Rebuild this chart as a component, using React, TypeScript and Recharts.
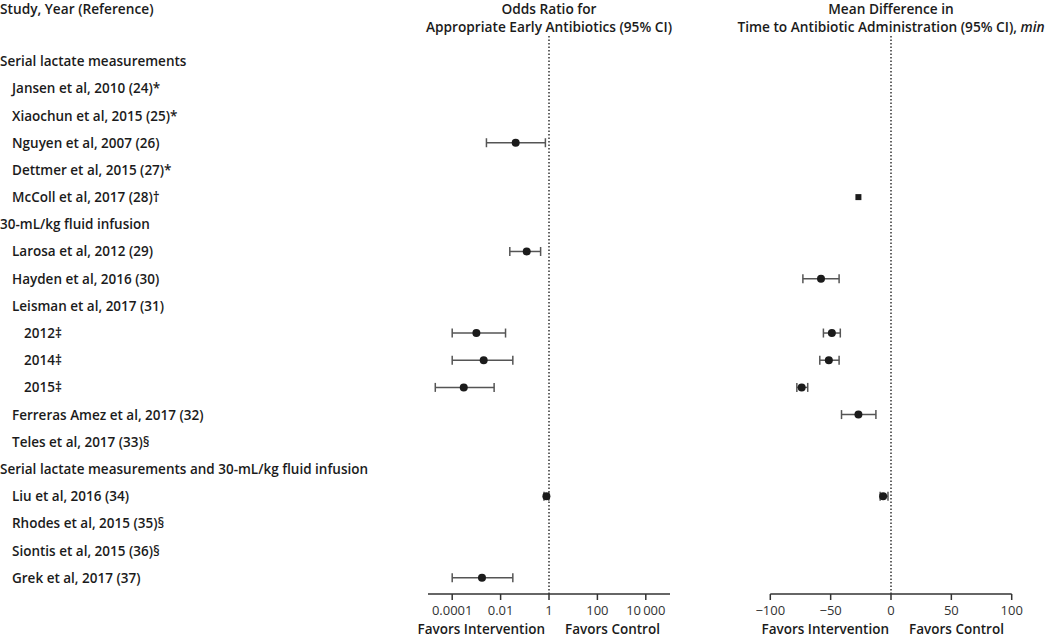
import { ErrorBar, ReferenceLine, Scatter, ScatterChart, XAxis, YAxis } from "recharts";

const FONT = "'Open Sans', 'DejaVu Sans', sans-serif";

// study rows, top to bottom
const rowLabels = [
  "Serial lactate measurements",
  "Jansen et al, 2010 (24)*",
  "Xiaochun et al, 2015 (25)*",
  "Nguyen et al, 2007 (26)",
  "Dettmer et al, 2015 (27)*",
  "McColl et al, 2017 (28)†",
  "30-mL/kg fluid infusion",
  "Larosa et al, 2012 (29)",
  "Hayden et al, 2016 (30)",
  "Leisman et al, 2017 (31)",
  "2012‡",
  "2014‡",
  "2015‡",
  "Ferreras Amez et al, 2017 (32)",
  "Teles et al, 2017 (33)§",
  "Serial lactate measurements and 30-mL/kg fluid infusion",
  "Liu et al, 2016 (34)",
  "Rhodes et al, 2015 (35)§",
  "Siontis et al, 2015 (36)§",
  "Grek et al, 2017 (37)",
];
const rowIndent = [0, 1, 1, 1, 1, 1, 0, 1, 1, 1, 2, 2, 2, 1, 1, 0, 1, 1, 1, 1];
const rowIndex = rowLabels.map((_, i) => i);

// odds ratio panel
const orRows = [3, 7, 10, 11, 12, 16, 19];
const orValue = [0.042, 0.12, 0.001, 0.002, 0.0003, 0.78, 0.0017];
const orLower = [0.0026, 0.024, 0.0001, 0.0001, 0.00002, 0.62, 0.0001];
const orUpper = [0.71, 0.45, 0.016, 0.032, 0.0054, 0.98, 0.032];
const orTicks = [0.0001, 0.01, 1, 100, 10000];
const orTickLabels = ["0.0001", "0.01", "1", "100", "10\u2009000"];

// mean difference panel (minutes)
const mdRows = [8, 10, 11, 12, 13, 16];
const mdValue = [-58, -49, -51.5, -74, -27, -6.5];
const mdLower = [-73, -56, -59, -78, -41, -9];
const mdUpper = [-43, -42, -43, -69, -12.5, -2.5];
const mdSquareRows = [5];
const mdSquareValue = [-27];
const mdTicks = [-100, -50, 0, 50, 100];
const mdTickLabels = ["\u2212100", "\u221250", "0", "50", "100"];

const orData = orRows.map((row, i) => ({
  row,
  x: orValue[i],
  err: [orValue[i] - orLower[i], orUpper[i] - orValue[i]],
}));
const mdData = mdRows.map((row, i) => ({
  row,
  x: mdValue[i],
  err: [mdValue[i] - mdLower[i], mdUpper[i] - mdValue[i]],
}));
const mdSquareData = mdSquareRows.map((row, i) => ({ row, x: mdSquareValue[i] }));

const W = 1050;
const H = 637;
const TOP = 34;
const AXIS_H = 43;
const Y_DOMAIN: [number, number] = [-1, 19.6];

const Dot = (p: any) => <circle cx={p.cx} cy={p.cy} r={4} fill="#1b1b1b" />;
const Square = (p: any) => <rect x={p.cx - 3} y={p.cy - 3} width={6} height={6} fill="#1b1b1b" />;

const RowTick = (p: any) => {
  const i = p.payload.value;
  return (
    <text
      x={rowIndent[i] * 12}
      y={p.y}
      dominantBaseline="central"
      fontFamily={FONT}
      fontSize={13.5}
      fontWeight={600}
      fill="#1b1b1b"
    >
      {rowLabels[i]}
    </text>
  );
};

const tickStyle = { fontFamily: FONT, fontSize: 13, fill: "#333" };
const axisLine = { stroke: "#333", strokeWidth: 1.5 };

const titleStyle: React.CSSProperties = {
  position: "absolute",
  top: 0,
  width: 400,
  textAlign: "center",
  fontFamily: FONT,
  fontSize: 13.7,
  fontWeight: 600,
  lineHeight: "18px",
  color: "#1b1b1b",
  whiteSpace: "nowrap",
};
const favorStyle: React.CSSProperties = {
  position: "absolute",
  top: 622,
  fontFamily: FONT,
  fontSize: 13.5,
  fontWeight: 600,
  lineHeight: "14px",
  color: "#1b1b1b",
  whiteSpace: "nowrap",
};

export default function App() {
  return (
    <div style={{ position: "absolute", left: 0, top: 0, width: W, height: H, background: "#fff", overflow: "hidden" }}>
      <div style={{ ...titleStyle, left: 0, textAlign: "left" }}>Study, Year (Reference)</div>
      <div style={{ ...titleStyle, left: 549 - 200 }}>
        Odds Ratio for
        <br />
        Appropriate Early Antibiotics (95% CI)
      </div>
      <div style={{ ...titleStyle, left: 891 - 200 }}>
        Mean Difference in
        <br />
        Time to Antibiotic Administration (95% CI), <i>min</i>
      </div>

      <div style={{ position: "absolute", left: 0, top: 0 }}>
        <ScatterChart width={680} height={H} margin={{ top: TOP, right: 10, bottom: 0, left: 0 }}>
          <XAxis
            type="number"
            dataKey="x"
            scale="log"
            domain={[0.00001, 100000]}
            ticks={orTicks}
            tickFormatter={(v: number) => orTickLabels[orTicks.indexOf(v)] ?? String(v)}
            allowDataOverflow
            height={AXIS_H}
            tickSize={6}
            tickMargin={6}
            axisLine={axisLine}
            tickLine={axisLine}
            tick={tickStyle}
            interval={0}
          />
          <YAxis
            type="number"
            dataKey="row"
            domain={Y_DOMAIN}
            reversed
            allowDataOverflow
            ticks={rowIndex}
            interval={0}
            width={428}
            axisLine={false}
            tickLine={false}
            tick={RowTick}
          />
          <ReferenceLine x={1} stroke="#333" strokeWidth={1.5} strokeDasharray="1.5 2" />
          <Scatter data={orData} shape={Dot} isAnimationActive={false}>
            <ErrorBar dataKey="err" direction="x" width={4.5} stroke="#555" strokeWidth={1.5} />
          </Scatter>
        </ScatterChart>
      </div>

      <div style={{ position: "absolute", left: 680, top: 0 }}>
        <ScatterChart width={370} height={H} margin={{ top: TOP, right: 38.3, bottom: 0, left: 90.3 }}>
          <XAxis
            type="number"
            dataKey="x"
            domain={[-100, 100]}
            ticks={mdTicks}
            tickFormatter={(v: number) => mdTickLabels[mdTicks.indexOf(v)] ?? String(v)}
            allowDataOverflow
            height={AXIS_H}
            tickSize={6}
            tickMargin={6}
            axisLine={axisLine}
            tickLine={axisLine}
            tick={tickStyle}
            interval={0}
          />
          <YAxis type="number" dataKey="row" domain={Y_DOMAIN} reversed allowDataOverflow hide />
          <ReferenceLine x={0} stroke="#333" strokeWidth={1.5} strokeDasharray="1.5 2" />
          <Scatter data={mdData} shape={Dot} isAnimationActive={false}>
            <ErrorBar dataKey="err" direction="x" width={4.5} stroke="#555" strokeWidth={1.5} />
          </Scatter>
          <Scatter data={mdSquareData} shape={Square} isAnimationActive={false} />
        </ScatterChart>
      </div>

      <div style={{ ...favorStyle, right: W - 545 }}>Favors Intervention</div>
      <div style={{ ...favorStyle, left: 565 }}>Favors Control</div>
      <div style={{ ...favorStyle, right: W - 889 }}>Favors Intervention</div>
      <div style={{ ...favorStyle, left: 909 }}>Favors Control</div>
    </div>
  );
}
